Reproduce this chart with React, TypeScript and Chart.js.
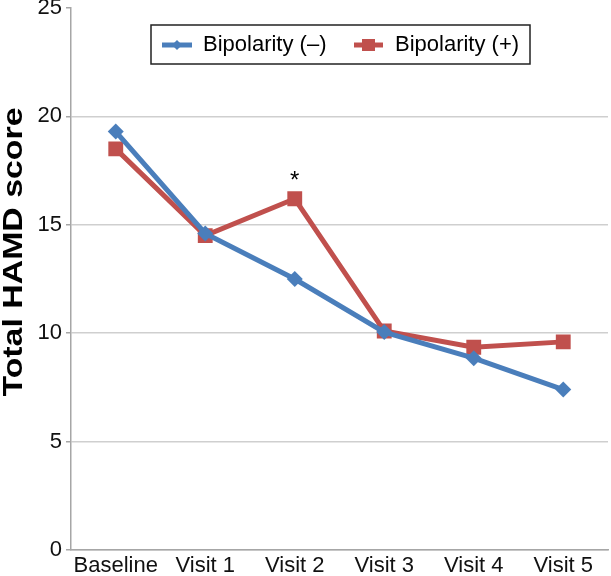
import React, { useEffect, useRef } from "react";
import { Chart, registerables } from "chart.js";

Chart.register(...registerables);

const categories = ["Baseline", "Visit 1", "Visit 2", "Visit 3", "Visit 4", "Visit 5"];
const bipolarNeg = [19.3, 14.6, 12.5, 10.05, 8.85, 7.4];
const bipolarPos = [18.5, 14.5, 16.2, 10.1, 9.35, 9.6];
const seriesLabels = ["Bipolarity (\u2013)", "Bipolarity (+)"];
const yTitle = "Total HAMD score";
const yTicks = [0, 5, 10, 15, 20, 25];
const BLUE = "#4a7ebb";
const RED = "#c0504d";
const FONT = "'Liberation Sans', Arial, sans-serif";

const annotationPlugin = {
  id: "annot",
  afterDatasetsDraw(chart: any) {
    const ctx = chart.ctx;
    const x = chart.scales.x.getPixelForValue(2);
    const y = chart.scales.y.getPixelForValue(bipolarPos[2]);
    ctx.save();
    ctx.fillStyle = "#000";
    ctx.font = `24px ${FONT}`;
    ctx.textAlign = "center";
    ctx.textBaseline = "middle";
    ctx.fillText("*", x, y - 17);
    ctx.restore();
  },
  afterDraw(chart: any) {
    const ctx = chart.ctx;
    ctx.save();
    // y-axis title
    ctx.save();
    ctx.translate(22, 252);
    ctx.rotate(-Math.PI / 2);
    ctx.font = `bold 28px ${FONT}`;
    const w = ctx.measureText(yTitle).width;
    ctx.scale(289 / w, 1);
    ctx.fillStyle = "#000";
    ctx.textAlign = "center";
    ctx.textBaseline = "alphabetic";
    ctx.fillText(yTitle, 0, 0);
    ctx.restore();
    // legend
    ctx.fillStyle = "#fff";
    ctx.fillRect(151, 25, 379, 39);
    ctx.strokeStyle = "#222";
    ctx.lineWidth = 1.5;
    ctx.strokeRect(151, 25, 379, 39);
    const cy = 45;
    ctx.strokeStyle = BLUE;
    ctx.lineWidth = 5;
    ctx.beginPath();
    ctx.moveTo(162, cy);
    ctx.lineTo(192, cy);
    ctx.stroke();
    ctx.fillStyle = BLUE;
    ctx.beginPath();
    ctx.moveTo(177, cy - 5);
    ctx.lineTo(182, cy);
    ctx.lineTo(177, cy + 5);
    ctx.lineTo(172, cy);
    ctx.closePath();
    ctx.fill();
    ctx.fillStyle = "#000";
    ctx.font = `22px ${FONT}`;
    ctx.textBaseline = "middle";
    ctx.textAlign = "left";
    ctx.fillText(chart.data.datasets[0].label, 203, cy);
    ctx.strokeStyle = RED;
    ctx.beginPath();
    ctx.moveTo(354, cy);
    ctx.lineTo(383, cy);
    ctx.stroke();
    ctx.fillStyle = RED;
    ctx.fillRect(362, cy - 6, 13, 12);
    ctx.fillStyle = "#000";
    ctx.fillText(chart.data.datasets[1].label, 395, cy);
    ctx.restore();
  },
};

export default function App() {
  const ref = useRef<HTMLCanvasElement>(null);
  useEffect(() => {
    const chart = new Chart(ref.current!, {
      type: "line",
      data: {
        labels: categories,
        datasets: [
          { label: seriesLabels[0], data: bipolarNeg, borderColor: BLUE, backgroundColor: BLUE, borderWidth: 5, pointStyle: "rectRot", pointRadius: 8, pointBorderWidth: 0, tension: 0 },
          { label: seriesLabels[1], data: bipolarPos, borderColor: RED, backgroundColor: RED, borderWidth: 5, pointStyle: "rect", pointRadius: 10.5, pointBorderWidth: 0, tension: 0 },
        ],
      },
      options: {
        animation: false,
        responsive: false,
        layout: { autoPadding: false, padding: { top: 8, right: 3, left: 0, bottom: 0 } },
        plugins: { legend: { display: false }, tooltip: { enabled: false } },
        scales: {
          x: {
            offset: true,
            grid: { display: false, drawTicks: false },
            border: { display: true, color: "#a6a6a6", width: 1.5 },
            ticks: { color: "#111", font: { family: FONT, size: 22 }, padding: 3, maxRotation: 0, autoSkip: false },
            afterFit: (s: any) => { s.height = 26; s.paddingLeft = 0; s.paddingRight = 0; },
          },
          y: {
            min: 0,
            max: 25,
            afterBuildTicks: (s: any) => { s.ticks = yTicks.map((v) => ({ value: v })); },
            grid: { color: (c: any) => (c.tick && c.tick.value === 25 ? "rgba(0,0,0,0)" : "#cfcfcf"), lineWidth: 1.5, tickLength: 5, tickColor: "#a6a6a6" },
            border: { display: true, color: "#a6a6a6", width: 1.5 },
            ticks: { color: "#111", font: { family: FONT, size: 22 }, padding: 4 },
            title: { display: false },
            afterFit: (s: any) => { s.width = 71; s.paddingTop = 0; s.paddingBottom = 0; },
          },
        },
      },
      plugins: [annotationPlugin],
    });
    return () => chart.destroy();
  }, []);
  return (
    <div style={{ position: "absolute", left: 0, top: 0, width: 611, height: 576, background: "#fff" }}>
      <canvas ref={ref} width={611} height={576} style={{ width: 611, height: 576 }} />
    </div>
  );
}
